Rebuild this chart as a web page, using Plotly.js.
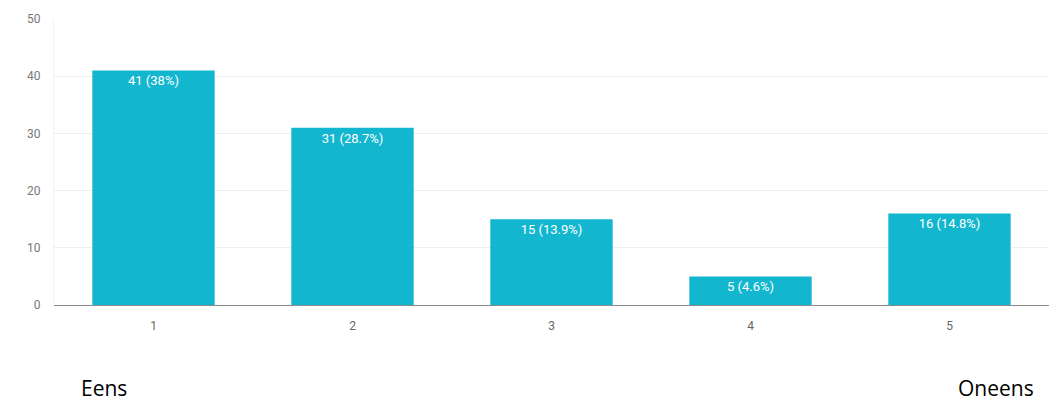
<!DOCTYPE html>
<html><head><meta charset="utf-8">
<script src="https://cdn.plot.ly/plotly-3.0.1.min.js"></script>
<style>html,body{margin:0;padding:0;background:#fff;}#chart{width:1049px;height:405px;}</style>
</head><body><div id="chart"></div>
<script>
const categories = ['1', '2', '3', '4', '5'];
const counts = [41, 31, 15, 5, 16];
const percents = ['38%', '28.7%', '13.9%', '4.6%', '14.8%'];
const yTicks = [0, 10, 20, 30, 40, 50];
const leftLabel = 'Eens';
const rightLabel = 'Oneens';

const labels = counts.map((c, i) => c + ' (' + percents[i] + ')');

const trace = {
  type: 'bar',
  x: categories.map(Number),
  y: counts,
  text: labels,
  textposition: 'inside',
  insidetextanchor: 'end',
  textangle: 0,
  textfont: {family: 'Roboto, Arial, sans-serif', size: 13, color: '#ffffff'},
  marker: {color: '#12b7cf'},
  width: 0.615,
  hoverinfo: 'none'
};

const layout = {
  width: 1049, height: 405,
  margin: {l: 54, r: 0, t: 19, b: 100},
  paper_bgcolor: '#fff', plot_bgcolor: '#fff',
  showlegend: false,
  xaxis: {
    range: [0.5, 5.5],
    tickvals: categories.map(Number),
    ticktext: categories,
    showgrid: false, zeroline: false,
    showline: false,
    ticks: '',
    ticklabelstandoff: 12,
    tickfont: {family: 'Roboto, Arial, sans-serif', size: 12, color: '#666'},
    fixedrange: true
  },
  yaxis: {
    range: [0, 50],
    tickvals: yTicks,
    showgrid: true, gridcolor: '#efefef', gridwidth: 1,
    zeroline: true, zerolinecolor: '#8a8a8a', zerolinewidth: 1,
    showline: true, linecolor: '#f2f2f2', linewidth: 1,
    tickfont: {family: 'Roboto, Arial, sans-serif', size: 12, color: '#777'},
    ticklabelstandoff: 10,
    fixedrange: true
  },
  annotations: [
    {text: leftLabel, xref: 'paper', yref: 'paper', x: 0.025, y: -0.29, xanchor: 'left', yanchor: 'middle', showarrow: false,
     font: {family: '"Open Sans", "Noto Sans", sans-serif', size: 21, color: '#000'}},
    {text: rightLabel, xref: 'paper', yref: 'paper', x: 0.987, y: -0.29, xanchor: 'right', yanchor: 'middle', showarrow: false,
     font: {family: '"Open Sans", "Noto Sans", sans-serif', size: 21, color: '#000'}}
  ]
};

Plotly.newPlot('chart', [trace], layout, {displayModeBar: false, staticPlot: true});
</script>
</body></html>
